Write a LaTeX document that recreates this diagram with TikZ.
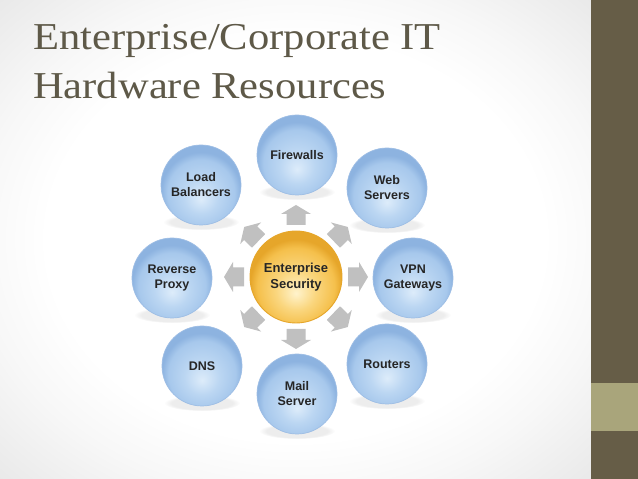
\documentclass[tikz,border=0pt]{standalone}
\usepackage{fontspec}
\setmainfont{Liberation Serif}
\setsansfont{Liberation Sans}
\usepackage{graphicx}
\usetikzlibrary{fadings}
\definecolor{titlecol}{RGB}{94,89,72}
\definecolor{barcol}{RGB}{102,93,71}
\definecolor{tancol}{RGB}{169,165,123}
\definecolor{bla}{HTML}{DDECFA}
\definecolor{blb}{HTML}{BBD6F2}
\definecolor{blc}{HTML}{A7C8EC}
\definecolor{bld}{HTML}{8DB3E0}
\definecolor{ora}{HTML}{FFF3CC}
\definecolor{orb}{HTML}{FAD67E}
\definecolor{orc}{HTML}{F5C04C}
\definecolor{ord}{HTML}{E6A62A}
\definecolor{arrcol}{HTML}{C0C0C0}
\definecolor{txtcol}{HTML}{262626}
\pgfdeclareradialshading{bluesph}{\pgfpoint{0bp}{-9bp}}{color(0bp)=(bla); color(11bp)=(blb); color(21bp)=(blc); color(25bp)=(bld); color(50bp)=(bld)}
\pgfdeclareradialshading{orangesph}{\pgfpoint{0bp}{-9bp}}{color(0bp)=(ora); color(11bp)=(orb); color(21bp)=(orc); color(25bp)=(ord); color(50bp)=(ord)}
\pgfdeclareradialshading{bgshade}{\pgfpoint{0bp}{0bp}}{color(0bp)=(white); color(21bp)=(white); color(27bp)=(black!3); color(36bp)=(black!9); color(50bp)=(black!9)}
\tikzset{
  outer/.style={circle, minimum size=80pt, inner sep=0pt, shading=bluesph, draw=bld!85!white, line width=0.7pt,
    font=\sffamily\bfseries\fontsize{12.5}{15}\selectfont, text=txtcol, align=center},
  inner/.style={circle, minimum size=92pt, inner sep=0pt, shading=orangesph, draw=ord, line width=0.9pt,
    font=\sffamily\bfseries\fontsize{13}{16}\selectfont, text=txtcol, align=center},
  titletext/.style={anchor=base west, inner sep=0pt, text=titlecol, font=\fontsize{38}{46}\selectfont},
  blkarrow/.style={fill=arrcol},
  shadowblob/.style={fill=black, opacity=0.07, path fading=circle with fuzzy edge 20 percent}
}
\begin{document}
\begin{tikzpicture}[x=1pt,y=1pt]
\useasboundingbox (0,0) rectangle (638,479);
\shade[shading=bgshade] (0,0) rectangle (591,479);
\fill[barcol] (591,0) rectangle (638,479);
\fill[tancol] (591,48) rectangle (638,96);

\node[titletext] (t1) at (33,429) {\scalebox{1.12}[1]{Enterprise/Corporate IT}};
\node[titletext] (t2) at (33,380) {\scalebox{1.12}[1]{Hardware Resources}};

% soft shadows
\foreach \x/\y in {297/324, 387/291, 413/201, 387/115, 297/85, 202/113, 172/201, 201/294}
  \fill[shadowblob] (\x,\y-37) ellipse (38 and 8);

% block arrows
\foreach \a in {90, 44, 0, -44, -90, -136, 180, 136}
  \fill[blkarrow, shift={(296,202)}, rotate=\a] (52,-9.5) -- (63,-9.5) -- (63,-15) -- (72,0) -- (63,15) -- (63,9.5) -- (52,9.5) -- cycle;

\node[inner] (c) at (296,202) {Enterprise\\Security};
\node[outer] (fw) at (297,324) {Firewalls};
\node[outer] (web) at (387,291) {Web\\Servers};
\node[outer] (vpn) at (413,201) {VPN\\Gateways};
\node[outer] (rt) at (387,115) {Routers};
\node[outer] (mail) at (297,85) {Mail\\Server};
\node[outer] (dns) at (202,113) {DNS};
\node[outer] (rp) at (172,201) {Reverse\\Proxy};
\node[outer] (lb) at (201,294) {Load\\Balancers};
\end{tikzpicture}
\end{document}
